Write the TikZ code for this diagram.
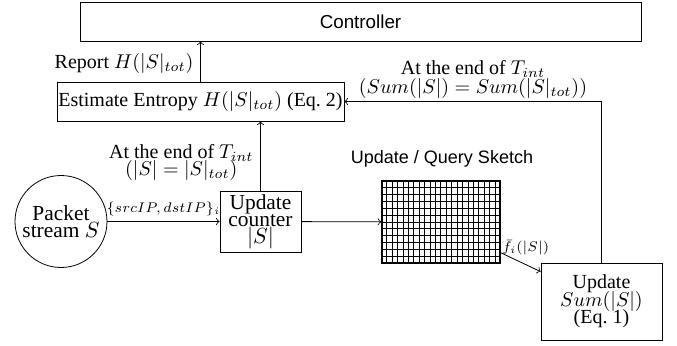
\documentclass[tikz,border=0pt]{standalone}
\usepackage{fontspec}
\setmainfont{Liberation Serif}
\setsansfont{Liberation Sans}
\usetikzlibrary{calc}
\newcommand\mytightls{\lineskiplimit=-20pt\relax}
\begin{document}
\begin{tikzpicture}[x=0.5pt,y=-0.5pt,
  boxnode/.style={draw, rectangle, inner sep=0pt, align=center},
  sz/.style 2 args={minimum width=#1*0.5pt, minimum height=#2*0.5pt},
  sanslab/.style={font=\sffamily\fontsize{9.4}{11}\selectfont},
  tight/.style 2 args={font=\fontsize{#1}{#2}\selectfont\mytightls},
  gridline/.style={line width=0.5pt}]
\useasboundingbox (0,0) rectangle (677,345);

\node[boxnode, sz={561}{39}, sanslab] (ctrl) at (360.5,21.5) {Controller};
\node[boxnode, sz={287}{39}, font=\fontsize{10}{12}\selectfont] (est) at (200.5,101.5) {Estimate Entropy $H(|S|_{tot})$ (Eq.~2)};
\node[draw, circle, minimum size=46pt, inner sep=0pt, align=center, tight={10.7}{8.5}] (pkt) at (61,221.5) {Packet\\stream $S$};
\node[boxnode, sz={81}{61}, tight={10.7}{8.5}] (cnt) at (260.5,221.5) {Update\\counter\\$|S|$};
\node[draw, rectangle, inner sep=0pt, sz={118}{82}, line width=0.7pt] (sk) at (441,222) {};
\foreach \i in {1,...,21}
  \draw[gridline] ($(sk.north west)!\i/22!(sk.north east)$) -- ($(sk.south west)!\i/22!(sk.south east)$);
\foreach \j in {1,...,11}
  \draw[gridline] ($(sk.north west)!\j/12!(sk.south west)$) -- ($(sk.north east)!\j/12!(sk.south east)$);
\node[font=\sffamily\fontsize{9}{11}\selectfont] (sklab) at ($(sk.north)+(1,-21)$) {Update / Query Sketch};
\node[boxnode, sz={121}{77}, tight={10}{8.75}] (sum) at (601.5,301.5) {Update\\$Sum(|S|)$\\(Eq.~1)};

\draw[->] (est.north) -- (est.north |- ctrl.south)
  node[midway, left, yshift=-1.2pt, font=\fontsize{10}{12}\selectfont] {Report $H(|S|_{tot})$};
\draw[->] (pkt) -- (cnt)
  node[midway, above, yshift=-1pt, font=\scriptsize] {$\{srcIP,dstIP\}_i$};
\draw[->] (cnt) -- (sk);
\draw[->] (cnt.north) -- (cnt.north |- est.south)
  node[midway, left, yshift=-3pt, align=center, tight={10}{8.5}] {At the end of $T_{int}$\\$(|S|=|S|_{tot})$};
\draw[->] ($(sk.south east)+(0,-11)$) -- ($(sum.north west)+(0,9)$);
\node[font=\scriptsize] (flab) at ($(sk.south east)+(25,-16)$) {$\bar{f}_i(|S|)$};
\draw[->] (sum.north) |- (est.east)
  node[pos=0.75, above, inner sep=1.5pt, align=center, tight={10}{9.5}] {At the end of $T_{int}$\\$(Sum(|S|) = Sum(|S|_{tot}))$};
\end{tikzpicture}
\end{document}
